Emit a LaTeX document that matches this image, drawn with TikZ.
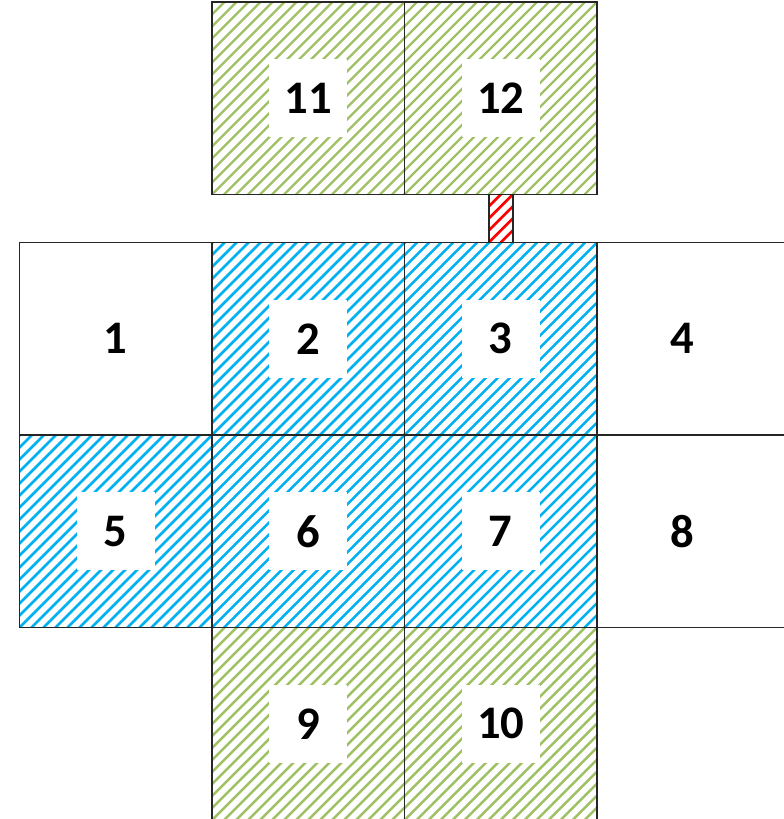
\documentclass[tikz,border=0pt]{standalone}
\usepackage{fontspec}
\setmainfont{Carlito}
\usetikzlibrary{positioning}

\definecolor{hatchblue}{RGB}{0,176,240}
\definecolor{hatchgreen}{RGB}{160,192,100}
\definecolor{hatchred}{RGB}{255,0,0}

\begin{document}
\begin{tikzpicture}[
    cell/.style={draw=black!85, line width=1.4pt, minimum size=144.4pt,
                 inner sep=0pt, outer sep=0pt},
    hatch/.style n args={3}{path picture={
        \foreach \i in {-20,...,20}
          \draw[#1, line width=#3]
            ([xshift=\i*#2]path picture bounding box.south west) -- ++(150pt,150pt);}},
    bluecell/.style={cell, hatch={hatchblue}{9pt}{1.9pt}},
    greencell/.style={cell, hatch={hatchgreen}{9pt}{1.8pt}},
    link/.style={draw=black!85, line width=1.4pt, minimum width=18pt,
                 minimum height=36pt, inner sep=0pt, outer sep=0pt,
                 hatch={hatchred}{9pt}{2pt}},
    tag/.style={fill=white, minimum size=58.5pt, inner sep=0pt,
                font=\fontsize{35}{40}\selectfont\bfseries},
  ]
  \clip (0,0) rectangle (588pt,-614.25pt);

  % --- middle rows ---
  \node[cell] (c1) at (86.8pt,-254.06pt) {};
  \node[bluecell, right=0pt of c1] (c2) {};
  \node[bluecell, right=0pt of c2] (c3) {};
  \node[cell,     right=0pt of c3] (c4) {};

  \node[bluecell, below=0pt of c1] (c5) {};
  \node[bluecell, right=0pt of c5] (c6) {};
  \node[bluecell, right=0pt of c6] (c7) {};
  \node[cell,     right=0pt of c7] (c8) {};

  % --- bottom row ---
  \node[greencell, below=0pt of c6] (c9) {};
  \node[greencell, below=0pt of c7] (c10) {};

  % --- top row and the small link ---
  \node[greencell, above=36pt of c2] (c11) {};
  \node[greencell, above=36pt of c3] (c12) {};
  \node[link, below=0pt of c12] (lk) {};

  % --- numbers ---
  \node[tag] (t1)  at (c1)  {1};
  \node[tag] (t2)  at (c2)  {2};
  \node[tag] (t3)  at (c3)  {3};
  \node[tag, xshift=-8.5pt] (t4) at (c4) {4};
  \node[tag] (t5)  at (c5)  {5};
  \node[tag] (t6)  at (c6)  {6};
  \node[tag] (t7)  at (c7)  {7};
  \node[tag, xshift=-8.5pt] (t8) at (c8) {8};
  \node[tag] (t9)  at (c9)  {9};
  \node[tag] (t10) at (c10) {10};
  \node[tag] (t11) at (c11) {11};
  \node[tag] (t12) at (c12) {12};
\end{tikzpicture}
\end{document}
